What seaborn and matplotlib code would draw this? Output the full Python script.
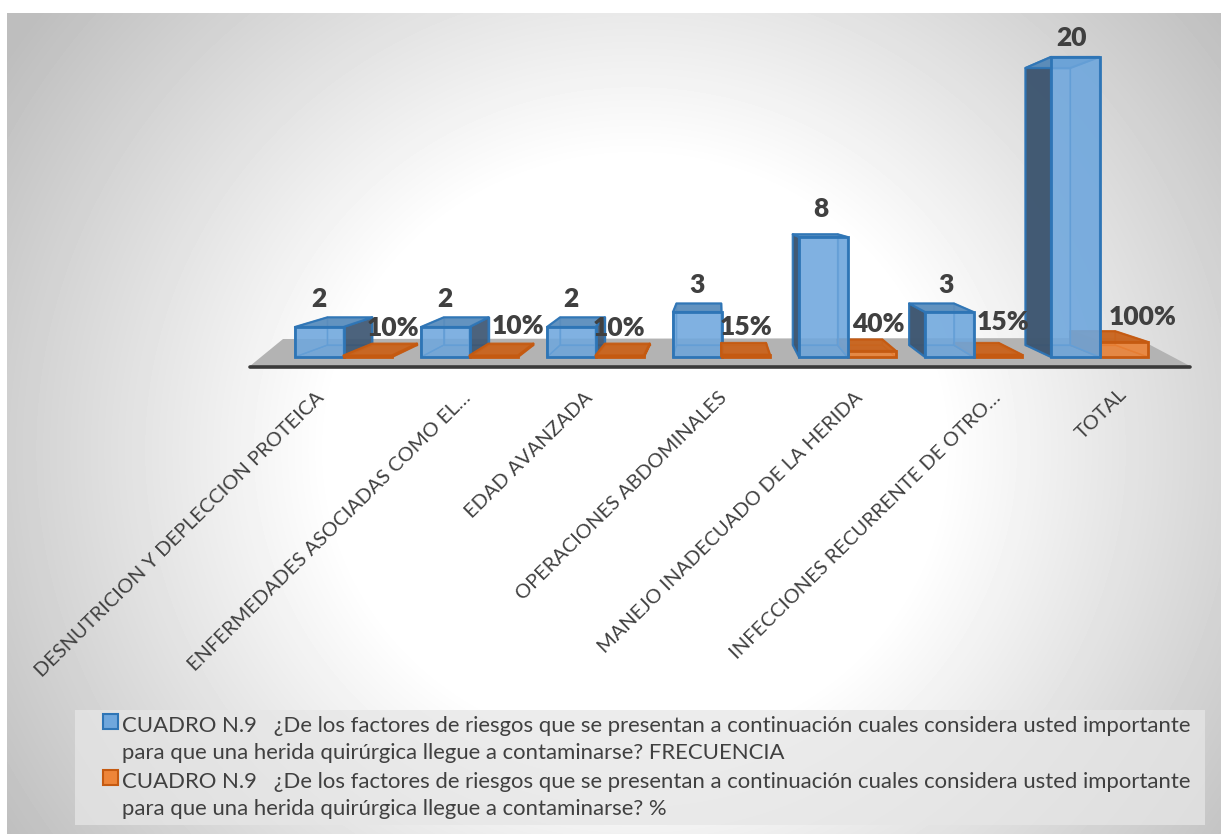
import numpy as np
import pandas as pd
import matplotlib
matplotlib.use("Agg")
import matplotlib.pyplot as plt
from matplotlib.patches import Polygon, Rectangle
from matplotlib.lines import Line2D
from matplotlib.legend_handler import HandlerPatch
from matplotlib.transforms import Affine2D, ScaledTranslation
import seaborn as sns

categories = [
    "DESNUTRICION Y DEPLECCION PROTEICA",
    "ENFERMEDADES ASOCIADAS COMO EL…",
    "EDAD AVANZADA",
    "OPERACIONES ABDOMINALES",
    "MANEJO INADECUADO DE LA HERIDA",
    "INFECCIONES RECURRENTE DE OTRO…",
    "TOTAL",
]
frecuencia = [2, 2, 2, 3, 8, 3, 20]
porcentaje = [0.10, 0.10, 0.10, 0.15, 0.40, 0.15, 1.00]
pregunta = ("CUADRO N.9   ¿De los factores de riesgos que se presentan a continuación "
            "cuales considera usted importante\npara que una herida quirúrgica llegue a contaminarse? ")
serie_frecuencia = pregunta + "FRECUENCIA"
serie_porcentaje = pregunta + "%"

W, H = 1221, 834
FONT = "Lato"
TEXT = "#404040"
BLUE_EDGE, ORANGE_EDGE = "#2e75b6", "#c55a11"

sns.set_theme(style="white")
plt.rcParams["font.family"] = [FONT, "DejaVu Sans"]

fig = plt.figure(figsize=(W / 100, H / 100), dpi=100, facecolor="white")
to_display = Affine2D().scale(1, -1).translate(0, H)   # top-left pixel coordinates


def fig_box(x0, y0, x1, y1):
    return [x0 / W, 1 - y1 / H, (x1 - x0) / W, (y1 - y0) / H]


# Radial backdrop of the chart area
bg = fig.add_axes(fig_box(7, 13, W, H), zorder=0)
yy, xx = np.mgrid[13:H, 7:W]
r = np.hypot(xx - 635, (yy - 450) * 1.05) / 730
shade = np.clip(255 - (r - 0.42) / 0.58 * 62, 190, 255)
bg.imshow(shade, cmap="gray", vmin=0, vmax=255, aspect="auto", interpolation="bilinear")
bg.axis("off")

# Category spacing 126 px, baseline at y=357, 15 px per unit
ax = fig.add_axes(fig_box(280.5, 27, 1162.5, 357), zorder=2)
ax.patch.set_alpha(0)

table = pd.DataFrame({
    "categoria": categories * 2,
    "valor": frecuencia + porcentaje,
    "serie": [serie_frecuencia] * 7 + [serie_porcentaje] * 7,
})
sns.barplot(data=table, x="categoria", y="valor", hue="serie", ax=ax,
            palette=["#6ea6dc", "#ed7d31"], width=0.77, gap=0, saturation=1, legend=True)
ax.set_xlim(-0.5, 6.5)
ax.set_ylim(0, 22)
ax.set_xlabel("")
ax.set_ylabel("")
ax.set_yticks([])
sns.despine(ax=ax, left=True, bottom=True)
ax.tick_params(axis="x", length=0, pad=0, colors=TEXT)

# Axis label placement along the floor edge
label_shift = [(-22, -38), (-2, -38), (-6, -38), (3, -38), (12, -38), (24, -38), (25, -35)]
for lab, (dx, dy) in zip(ax.get_xticklabels(), label_shift):
    lab.set_rotation(44.6)
    lab.set_rotation_mode("anchor")
    lab.set_ha("right")
    lab.set_va("center")
    lab.set_fontsize(14.4)
    lab.set_transform(lab.get_transform() + ScaledTranslation(dx / 100, dy / 100, fig.dpi_scale_trans))

# Floor of the chart
floor = Polygon([(250, 366), (1190, 366), (1137, 338), (283, 339)], closed=True,
                facecolor="#b3b3b3", edgecolor="none", transform=to_display, zorder=1, clip_on=False)
ax.add_patch(floor)
ax.add_line(Line2D([250, 1190], [367, 367], color="#3a3a3a", lw=2.6, solid_capstyle="round",
                   transform=to_display, zorder=1.5, clip_on=False))

fig.canvas.draw()
VP = np.array([718.0, 201.0])
DEPTH = 0.0767


def to_px(x, y):
    d = ax.transData.transform((x, y))
    return np.array([d[0], H - d[1]])


def back_of(p):
    return p + DEPTH * (VP - p)


def add_face(pts, color, alpha, edge, z, lw=1.6):
    ax.add_patch(Polygon(pts, closed=True, facecolor=matplotlib.colors.to_rgba(color, alpha),
                         edgecolor=matplotlib.colors.to_rgba(edge, 0.9), lw=lw, joinstyle="round",
                         transform=to_display, zorder=z, clip_on=False))


def draw_box(bar, z, front, top, dark, edge):
    x0, w, h = bar.get_x(), bar.get_width(), bar.get_height()
    fl, fr = to_px(x0, 0), to_px(x0 + w, 0)
    tl, tr = to_px(x0, h), to_px(x0 + w, h)
    bfl, bfr, btl, btr = back_of(fl), back_of(fr), back_of(tl), back_of(tr)
    # Far faces first so they read through the translucent front
    add_face([bfl, bfr, btr, btl], front, 0.35, edge, z, lw=1)
    add_face([fl, fr, bfr, bfl], top, 0.35, edge, z + 0.01, lw=1)
    if fl[0] > VP[0]:
        add_face([fl, tl, btl, bfl], dark, 0.97, edge, z + 0.02)
        add_face([fr, tr, btr, bfr], front, 0.45, edge, z + 0.02, lw=1)
    elif fr[0] < VP[0]:
        add_face([fl, tl, btl, bfl], front, 0.35, edge, z + 0.02, lw=1)
        add_face([fr, tr, btr, bfr], dark, 0.9, edge, z + 0.02)
    else:
        add_face([fl, tl, btl, bfl], front, 0.35, edge, z + 0.02, lw=1)
        add_face([fr, tr, btr, bfr], front, 0.35, edge, z + 0.02, lw=1)
    add_face([tl, tr, btr, btl], top, 0.95, edge, z + 0.03)
    bar.set_zorder(z + 0.04)
    bar.set_clip_on(False)
    bar.set_facecolor(matplotlib.colors.to_rgba(front, 0.82))
    bar.set_edgecolor(edge)
    bar.set_linewidth(2)


blue_bars, orange_bars = ax.containers[0], ax.containers[1]
for i, (b, o) in enumerate(zip(blue_bars, orange_bars)):
    if i < 4:
        zb, zo = 10 + i, 10.5 + i
    else:
        zb, zo = 30 - i + 0.5, 30 - i
    draw_box(b, zb, "#6fa7dd", "#5d8fbe", "#3e5670", BLUE_EDGE)
    draw_box(o, zo, "#ee8539", "#c9651f", "#b85a18", ORANGE_EDGE)

# Value labels, with their offsets from the bar they annotate
blue_offset = [(0, -28), (0, -28), (0, -28), (0, -27), (-2, -28), (-3, -27), (-4, -19)]
orange_offset = [(25, -28), (24, -30), (-1, -28), (0, -28), (7, -27), (5, -33), (19, -25)]
for bars, values, offs, fmt in [(blue_bars, frecuencia, blue_offset, "{:d}"),
                                (orange_bars, porcentaje, orange_offset, "{:.0%}")]:
    for bar, v, (dx, dy) in zip(bars, values, offs):
        p = to_px(bar.get_x() + bar.get_width() / 2, bar.get_height())
        ax.text(p[0] + dx, p[1] + dy, fmt.format(v), transform=to_display, ha="center", va="center",
                fontsize=19, fontweight=800, color=TEXT, zorder=60, clip_on=False)


class RaisedSwatch(HandlerPatch):
    """Legend swatch aligned to the first of the two label lines."""

    def create_artists(self, legend, orig_handle, xdescent, ydescent, width, height, fontsize, trans):
        rect = Rectangle((0, 13.2), 10.8, 10.8, facecolor=orig_handle.get_facecolor(),
                         edgecolor=orig_handle.get_edgecolor(), lw=1.5, transform=trans)
        return [rect]


# Legend band
fig.add_artist(Rectangle((75, 710), 1130, 115, facecolor="#e6e6e6", alpha=0.75, edgecolor="none",
                         transform=to_display, zorder=3))
handles, labels = ax.get_legend_handles_labels()
swatches = [Rectangle((0, 0), 1, 1, facecolor=c, edgecolor=e)
            for c, e in [("#6fa7dd", BLUE_EDGE), ("#ee8539", ORANGE_EDGE)]]
leg = fig.legend(swatches, labels, loc="upper left", bbox_to_anchor=(103 / W, 1 - 716 / H),
                 frameon=False, fontsize=15.9, labelcolor=TEXT, handler_map={Rectangle: RaisedSwatch()},
                 handlelength=0.7, handletextpad=0.15, borderaxespad=0, borderpad=0, labelspacing=0.41)
for t in leg.get_texts():
    t.set_linespacing(1.44)
leg.set_zorder(5)
if ax.get_legend() is not None:
    ax.get_legend().remove()

fig.savefig("out.png", dpi=100, facecolor="white")
